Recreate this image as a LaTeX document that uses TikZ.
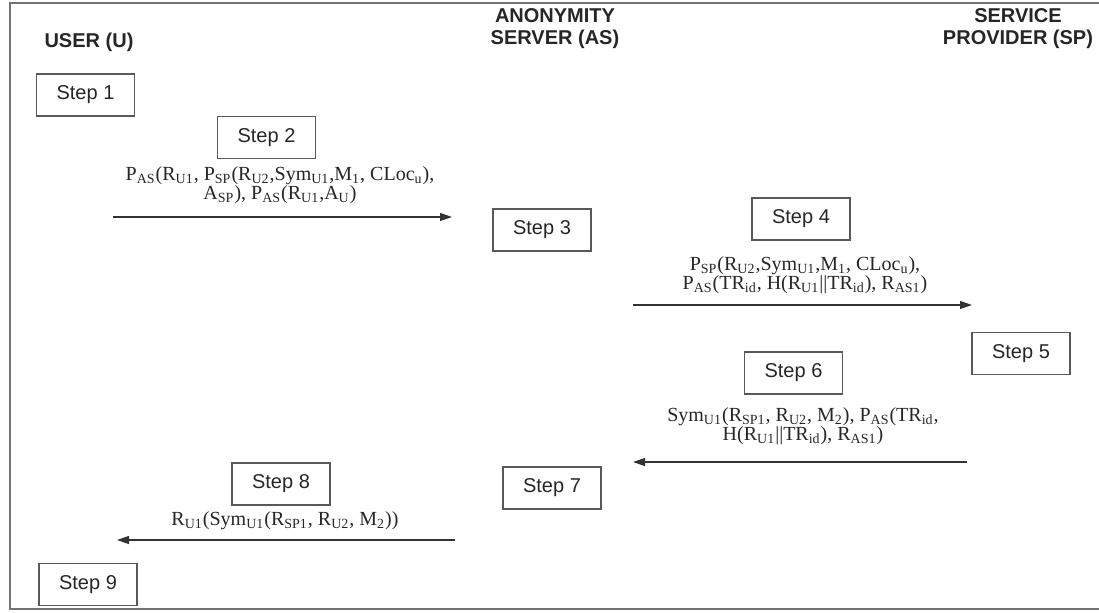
\documentclass[tikz,border=0pt]{standalone}
\usepackage{fontspec}
\setmainfont{Liberation Serif}
\newfontfamily\headfont{Liberation Sans}
\usetikzlibrary{arrows.meta}
\newcommand{\sbs}[1]{\textsubscript{#1}}
\begin{document}
\begin{tikzpicture}[x=0.5pt,y=-0.5pt,
  stepbox/.style={draw=black!65, line width=0.6pt, minimum width=49pt,
    minimum height=21pt, inner sep=0pt, text=black!85,
    font=\headfont\fontsize{10}{12}\selectfont},
  head/.style={align=center, inner sep=0pt, text=black!85,
    font=\headfont\bfseries\fontsize{10}{11}\selectfont},
  msg/.style={align=center, inner sep=0pt, text=black!85,
    font=\fontsize{10}{9.5}\selectfont},
  flow/.style={draw=black!80, line width=0.6pt,
    -{Triangle[length=6pt,width=4pt]}},
]
\useasboundingbox (0,0) rectangle (1099,612);
% outer frame
\draw[black!55, line width=0.8pt] (1099,3) -- (10,3) -- (10,609) -- (1099,609);

% party headings
\node[head] (huser) at (89,42) {USER (U)};
\node[head] (has) at (555,28.5) {ANONYMITY\\SERVER (AS)};
\node[head] (hsp) at (1018,29) {SERVICE\\PROVIDER (SP)};

% protocol steps
\node[stepbox] (s1) at (85.5,95) {Step 1};
\node[stepbox] (s2) at (266.5,137.5) {Step 2};
\node[stepbox] (s3) at (542,230) {Step 3};
\node[stepbox] (s4) at (801,219) {Step 4};
\node[stepbox] (s5) at (1021,353.5) {Step 5};
\node[stepbox] (s6) at (793.5,373) {Step 6};
\node[stepbox] (s7) at (552,488) {Step 7};
\node[stepbox] (s8) at (281,484) {Step 8};
\node[stepbox] (s9) at (88,584.5) {Step 9};

% messages
\node[msg] (m2) at (280,185) {P\sbs{AS}(R\sbs{U1}, P\sbs{SP}(R\sbs{U2},Sym\sbs{U1},M\sbs{1}, CLoc\sbs{u}),\\
  A\sbs{SP}), P\sbs{AS}(R\sbs{U1},A\sbs{U})};
\node[msg] (m4) at (805,275) {P\sbs{SP}(R\sbs{U2},Sym\sbs{U1},M\sbs{1}, CLoc\sbs{u}),\\
  P\sbs{AS}(TR\sbs{id}, H(R\sbs{U1}||TR\sbs{id}), R\sbs{AS1})};
\node[msg] (m6) at (803,426) {Sym\sbs{U1}(R\sbs{SP1}, R\sbs{U2}, M\sbs{2}), P\sbs{AS}(TR\sbs{id},\\
  H(R\sbs{U1}||TR\sbs{id}), R\sbs{AS1})};
\node[msg] (m8) at (285,521) {R\sbs{U1}(Sym\sbs{U1}(R\sbs{SP1}, R\sbs{U2}, M\sbs{2}))};

% arrow ends
\coordinate (a1s) at (113,217);  \coordinate (a1e) at (452,217);
\coordinate (a2s) at (633,305);  \coordinate (a2e) at (972,305);
\coordinate (a3s) at (967,462);  \coordinate (a3e) at (633,462);
\coordinate (a4s) at (455,540);  \coordinate (a4e) at (117,540);

\draw[flow] (a1s) -- (a1e);
\draw[flow] (a2s) -- (a2e);
\draw[flow] (a3s) -- (a3e);
\draw[flow] (a4s) -- (a4e);
\end{tikzpicture}
\end{document}
